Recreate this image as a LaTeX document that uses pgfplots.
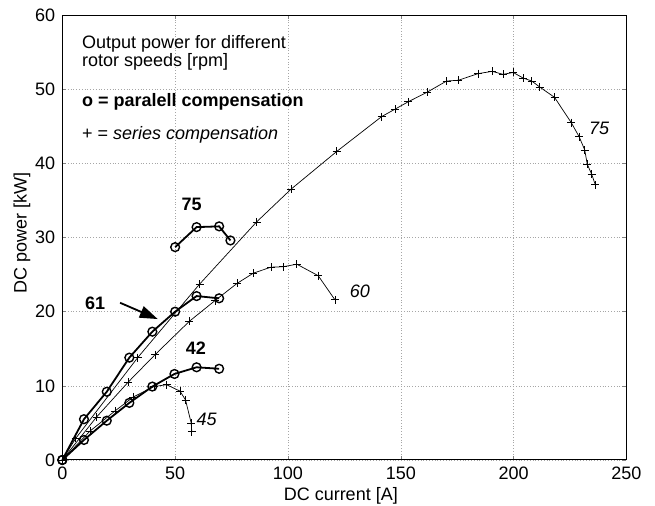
\documentclass[border=0pt]{standalone}
\usepackage{fontspec}
\setmainfont{Liberation Sans}
\usepackage{pgfplots}
\pgfplotsset{compat=1.18}
\usetikzlibrary{arrows.meta}

\begin{document}
\begin{tikzpicture}[font=\fontsize{9}{10}\selectfont]
\useasboundingbox (-31.15pt,-23pt) rectangle (296.35pt,230pt);
\begin{axis}[
 at={(0,0)}, anchor=south west,
 scale only axis, width=282.1pt, height=222.5pt,
 xmin=0,xmax=250,ymin=0,ymax=60,
 xtick={0,50,...,250}, ytick={0,10,...,60},
 grid=major, major grid style={densely dotted, gray!70, line width=0.3pt},
 tick align=inside, major tick length=2pt,
 axis line style={line width=0.5pt},
 /pgf/number format/assume math mode=true,
 tick label style={font=\fontsize{9}{10}\selectfont},
 xlabel={DC current [A]}, ylabel={DC power [kW]},
 xlabel style={at={(axis description cs:0.4936,-0.0809)}, anchor=center},
 ylabel style={at={(axis description cs:-0.0716,0.51)}, anchor=center},
 clip=false,
]
% series compensation (+), thin lines
\addplot[black, line width=0.35pt, mark=+, mark size=2pt, mark options={line width=0.35pt}] coordinates {
(0,0)(5.9,2.9)(33.4,13.8)(60.8,23.7)(86.1,32.1)(101.3,36.5)(121.6,41.6)(141.5,46.3)(147.4,47.3)(153.3,48.3)(161.7,49.6)(170.3,51.1)(175.5,51.2)(184.3,52.1)(190.5,52.4)(195.3,52.0)(199.8,52.25)(204.2,51.5)(208,51.1)(211.5,50.3)(218.1,48.9)(225.5,45.5)(229,43.6)(231.5,41.8)(232.6,39.9)(234.6,38.5)(236.2,37.1)};
\addplot[black, line width=0.35pt, mark=+, mark size=2pt, mark options={line width=0.35pt}] coordinates {
(0,0)(15.2,5.8)(29.2,10.5)(41.1,14.2)(56.3,18.7)(67.7,21.5)(77.4,23.8)(84.7,25.2)(92.5,26.0)(97.8,26.05)(103.9,26.4)(113.4,24.85)(120.8,21.6)};
\addplot[black, line width=0.35pt, mark=+, mark size=2pt, mark options={line width=0.35pt}] coordinates {
(0,0)(12.3,3.9)(23.3,6.6)(31.5,8.5)(40.6,9.9)(46.2,10.15)(52.1,9.3)(54.6,8.1)(57.1,5.0)(57.4,3.8)};
% parallel compensation (o), thick lines
\addplot[black, line width=0.9pt, mark=o, mark size=2.2pt, mark options={line width=0.7pt}] coordinates {
(50,28.7)(59.5,31.4)(69.5,31.5)(74.5,29.6)};
\addplot[black, line width=0.9pt, mark=o, mark size=2.2pt, mark options={line width=0.7pt}] coordinates {
(0,0)(9.6,5.5)(19.7,9.2)(29.7,13.8)(39.9,17.3)(50,20.0)(59.5,22.1)(69.5,21.8)};
\addplot[black, line width=0.9pt, mark=o, mark size=2.2pt, mark options={line width=0.7pt}] coordinates {
(0,0)(9.6,2.7)(19.7,5.3)(29.7,7.7)(39.9,9.9)(49.7,11.6)(59.5,12.5)(69.5,12.3)};
% annotations
\node[anchor=base west, inner sep=0pt] at (axis cs:8.6,55.5) {Output power for different};
\node[anchor=base west, inner sep=0pt] at (axis cs:8.6,53.0) {rotor speeds [rpm]};
\node[anchor=base west, inner sep=0pt, font=\fontsize{9}{10}\selectfont\bfseries] at (axis cs:8.6,47.7) {o = paralell compensation};
\node[anchor=base west, inner sep=0pt] at (axis cs:8.6,43.2) {+ = \textit{series compensation}};
\node[font=\fontsize{9}{10}\selectfont\bfseries] at (axis cs:57.3,34.5) {75};
\node[font=\fontsize{9}{10}\selectfont\bfseries] at (axis cs:14.5,21.1) {61};
\node[font=\fontsize{9}{10}\selectfont\bfseries] at (axis cs:59.2,15.1) {42};
\node[font=\fontsize{9}{10}\selectfont\itshape] at (axis cs:237.9,44.7) {75};
\node[font=\fontsize{9}{10}\selectfont\itshape] at (axis cs:131.9,22.7) {60};
\node[font=\fontsize{9}{10}\selectfont\itshape] at (axis cs:64,5.5) {45};
\draw[line width=0.9pt, -{Triangle[length=9pt,width=6pt]}] (axis cs:25.6,21.2) -- (axis cs:42.3,19.0);
\end{axis}
\end{tikzpicture}
\end{document}
